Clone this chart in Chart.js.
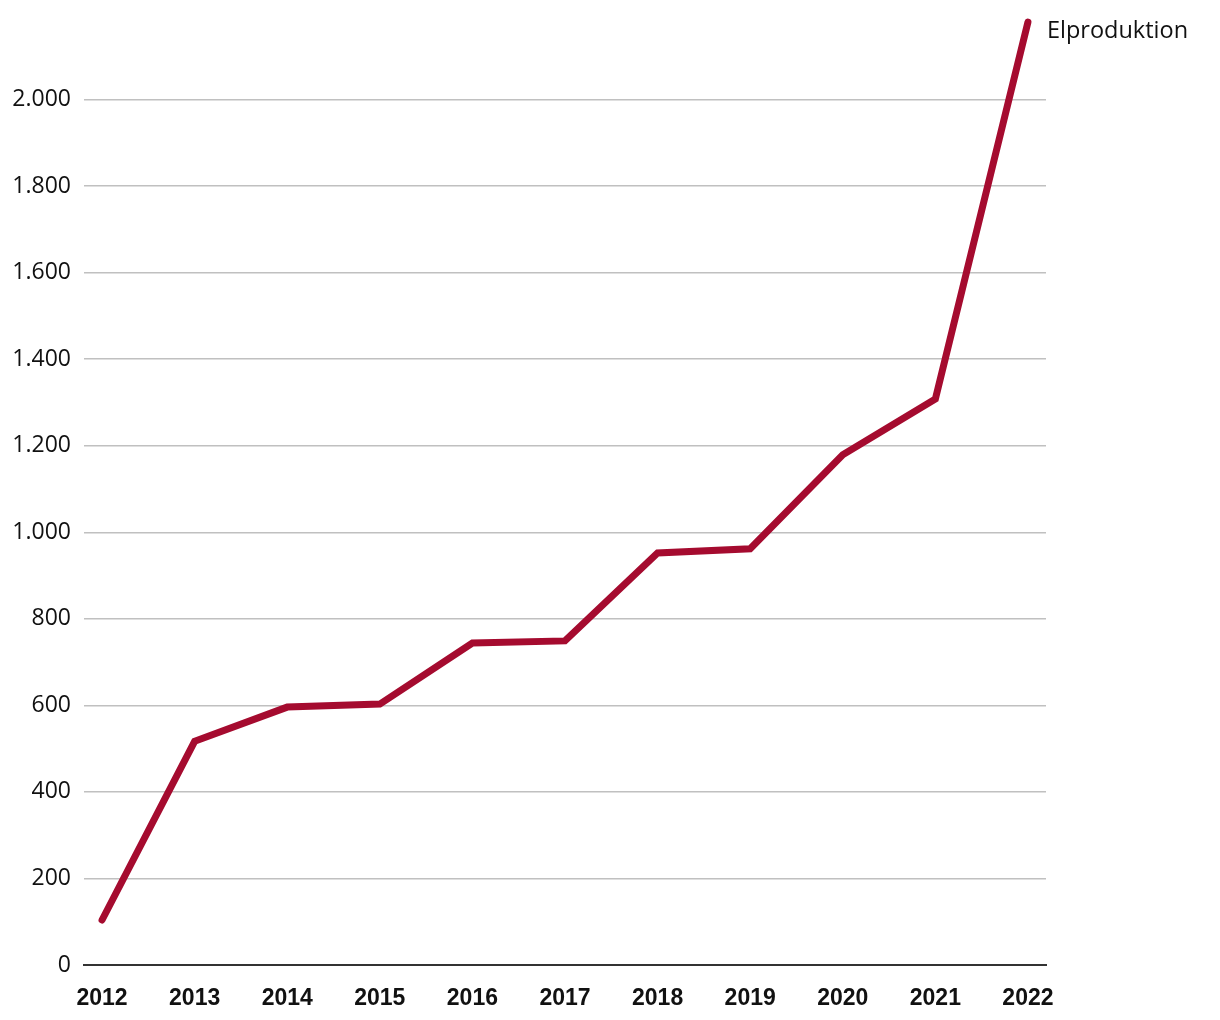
<!DOCTYPE html>
<html>
<head>
<meta charset="utf-8">
<script src="https://cdn.jsdelivr.net/npm/chart.js@4/dist/chart.umd.min.js"></script>
<style>
  html, body { margin: 0; padding: 0; background: #fff; }
  #wrap { width: 1220px; height: 1020px; }
  .pre { font-family: "Open Sans"; position: absolute; left: -9999px; }
  .pre2 { font-family: "Liberation Sans"; font-weight: bold; position: absolute; left: -9999px; }
</style>
</head>
<body>
<span class="pre">2.000 Elproduktion</span><span class="pre2">2012</span>
<div id="wrap"><canvas id="c" width="1220" height="1020"></canvas></div>
<script>
const years = [2012, 2013, 2014, 2015, 2016, 2017, 2018, 2019, 2020, 2021, 2022];
const elproduktion = [104, 517, 596, 603, 744, 749, 952, 962, 1179, 1308, 2179];
const seriesLabel = 'Elproduktion';
const yTicks = [0, 200, 400, 600, 800, 1000, 1200, 1400, 1600, 1800, 2000];

const fmt = v => v.toLocaleString('da-DK');

const endLabel = {
  id: 'endLabel',
  afterDatasetsDraw(chart) {
    const meta = chart.getDatasetMeta(0);
    const pt = meta.data[meta.data.length - 1];
    const ctx = chart.ctx;
    ctx.save();
    ctx.font = '23.5px "Open Sans"';
    ctx.fillStyle = '#111';
    ctx.textAlign = 'left';
    ctx.textBaseline = 'middle';
    ctx.fillText(chart.data.datasets[0].label, pt.x + 19, pt.y + 9);
    ctx.restore();
  }
};

function draw() {
  new Chart(document.getElementById('c'), {
    type: 'line',
    data: {
      datasets: [{
        label: seriesLabel,
        data: years.map((y, i) => ({ x: y, y: elproduktion[i] })),
        borderColor: '#A50B2F',
        borderWidth: 7,
        borderCapStyle: 'round',
        borderJoinStyle: 'miter',
        pointRadius: 0,
        tension: 0,
        fill: false
      }]
    },
    options: {
      responsive: false,
      animation: false,
      devicePixelRatio: 1,
      layout: { padding: { top: 13, right: 174, left: 0, bottom: 0 } },
      plugins: { legend: { display: false }, tooltip: { enabled: false } },
      scales: {
        x: {
          type: 'linear',
          min: 2011.805,
          max: 2022.195,
          afterBuildTicks: s => { s.ticks = years.map(v => ({ value: v })); },
          afterFit: s => { s.height = 55; s.paddingLeft = 0; s.paddingRight = 0; },
          grid: { display: false, drawTicks: false },
          border: { display: true, color: '#333', width: 2 },
          ticks: {
            padding: 20,
            color: '#111',
            font: { family: '"Liberation Sans", Arial, sans-serif', size: 23, weight: 'bold' },
            callback: v => String(v),
            maxRotation: 0,
            autoSkip: false
          }
        },
        y: {
          min: 0,
          max: 2200,
          afterBuildTicks: s => { s.ticks = yTicks.map(v => ({ value: v })); },
          afterFit: s => { s.width = 84; s.paddingTop = 0; s.paddingBottom = 0; },
          grid: {
            drawTicks: false,
            color: c => c.tick && c.tick.value === 0 ? '#333' : '#c0c0c0',
            lineWidth: c => c.tick && c.tick.value === 0 ? 2 : 1.5
          },
          border: { display: false },
          ticks: {
            padding: 13,
            color: '#111',
            font: { family: '"Open Sans", sans-serif', size: 23 },
            callback: v => fmt(v)
          }
        }
      }
    },
    plugins: [endLabel]
  });
}

Promise.all([
  document.fonts.load('23px "Open Sans"'),
  document.fonts.load('bold 23px "Liberation Sans"')
]).then(draw, draw);
</script>
</body>
</html>
